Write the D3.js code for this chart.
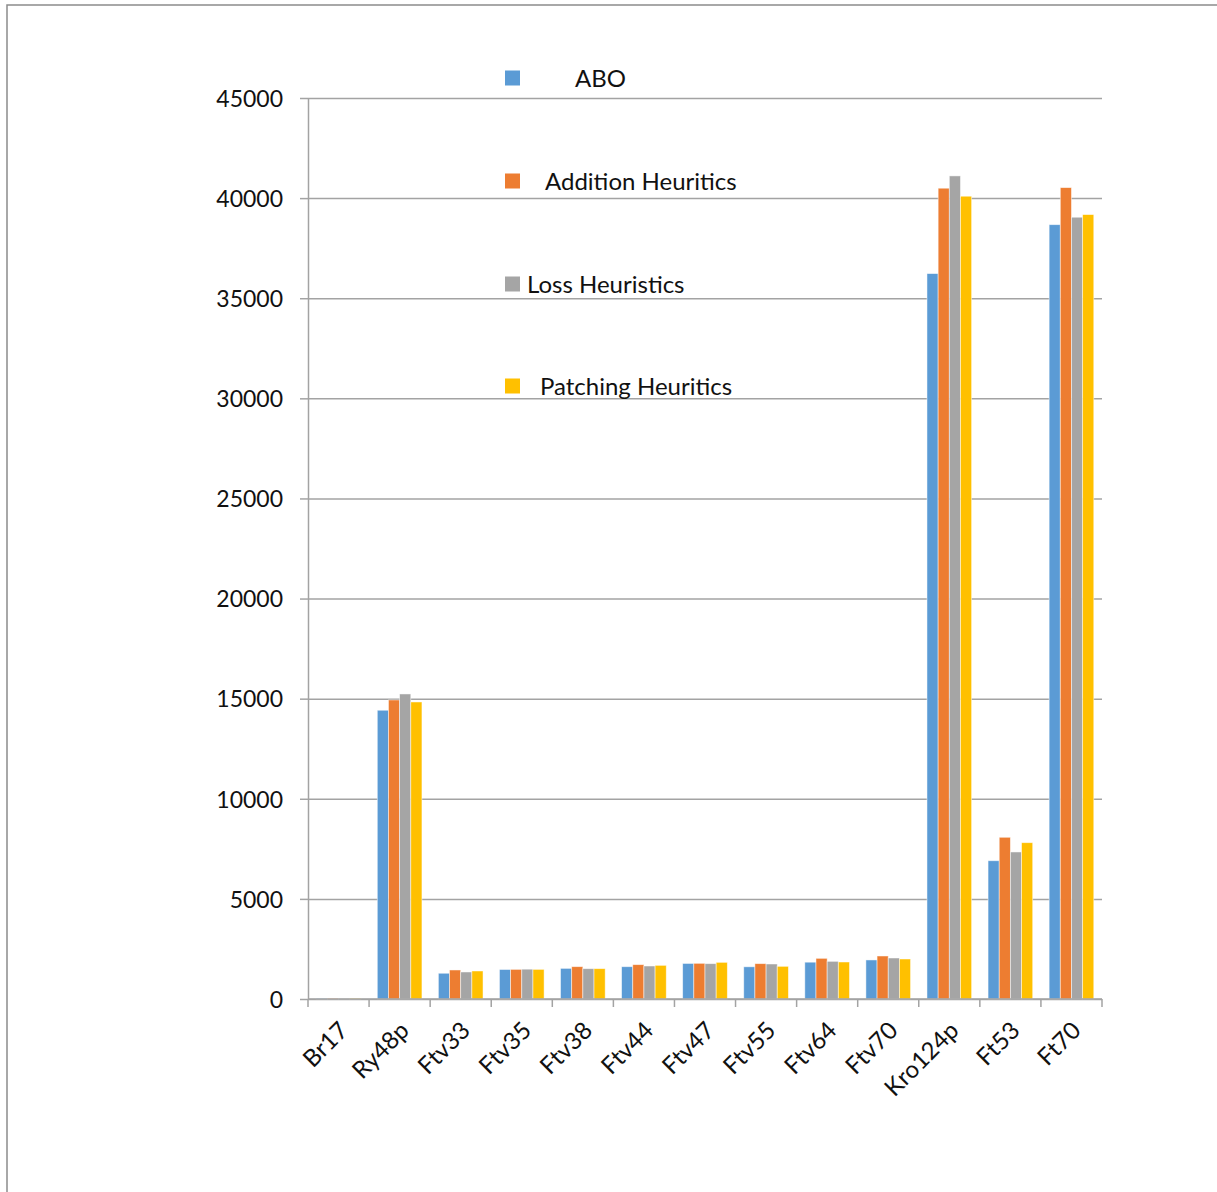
<!DOCTYPE html>
<html>
<head>
<meta charset="utf-8">
<script src="https://cdn.jsdelivr.net/npm/d3@7"></script>
<style>
  body { margin: 0; background: #fff; }
  svg text { font-family: Lato, "Open Sans", sans-serif; fill: #111; }
</style>
</head>
<body>
<svg id="chart" width="1217" height="1192"></svg>
<script>
// values
const categories = ['Br17', 'Ry48p', 'Ftv33', 'Ftv35', 'Ftv38', 'Ftv44', 'Ftv47', 'Ftv55', 'Ftv64', 'Ftv70', 'Kro124p', 'Ft53', 'Ft70'];
const seriesNames = ['ABO', 'Addition Heuritics', 'Loss Heuristics', 'Patching Heuritics'];
const abo       = [39, 14422, 1286, 1473, 1530, 1613, 1776, 1608, 1839, 1950, 36230, 6905, 38673];
const addition  = [39, 14935, 1449, 1480, 1615, 1715, 1782, 1765, 2031, 2148, 40495, 8077, 40524];
const loss      = [39, 15235, 1349, 1490, 1515, 1648, 1765, 1748, 1881, 2048, 41109, 7343, 39045];
const patching  = [39, 14835, 1399, 1480, 1515, 1681, 1831, 1632, 1848, 1998, 40095, 7807, 39177];
const yTicks = [0, 5000, 10000, 15000, 20000, 25000, 30000, 35000, 40000, 45000];

const colors = ['#5B9BD5', '#ED7D31', '#A5A5A5', '#FFC000'];
const seriesValues = [abo, addition, loss, patching];

const svg = d3.select('#chart');
const margin = { top: 98, right: 115, bottom: 193, left: 308 };
const width = 1217 - margin.left - margin.right;
const height = 1192 - margin.top - margin.bottom;

// outer frame (only top and left edges show)
svg.append('path')
  .attr('d', 'M7,1192V5H1217')
  .attr('fill', 'none')
  .attr('stroke', '#8c8c8c')
  .attr('stroke-width', 1.5);

const x = d3.scaleBand().domain(categories).range([0, width]);
const x1 = d3.scaleBand().domain(seriesNames).range([0, x.bandwidth()]).paddingOuter(0.735);
const y = d3.scaleLinear().domain([0, 45000]).range([height, 0]);

const g = svg.append('g')
  .attr('transform', 'translate(' + margin.left + ',' + margin.top + ')');

// gridlines
g.append('g')
  .call(d3.axisLeft(y).tickValues(yTicks).tickSize(-width).tickFormat(''))
  .call(s => s.select('.domain').remove())
  .selectAll('line')
  .attr('stroke', '#a3a3a3')
  .attr('stroke-width', 1.5);

// bars
const table = categories.map((c, i) => ({ label: c, values: seriesValues.map(v => v[i]) }));

const groups = g.selectAll('.grp')
  .data(table)
  .enter().append('g')
  .attr('class', 'grp')
  .attr('transform', d => 'translate(' + x(d.label) + ',0)');

groups.selectAll('rect')
  .data(d => d.values.map((v, k) => ({ name: seriesNames[k], value: v, k: k })))
  .enter().append('rect')
  .attr('x', d => x1(d.name))
  .attr('width', x1.bandwidth())
  .attr('y', d => y(d.value))
  .attr('height', d => height - y(d.value))
  .attr('fill', d => colors[d.k])
  .attr('stroke', '#fff')
  .attr('stroke-opacity', 0.6)
  .attr('stroke-width', 0.8);

// y axis
const yAxis = g.append('g')
  .call(d3.axisLeft(y).tickValues(yTicks).tickSize(8).tickSizeOuter(0).tickPadding(17).tickFormat(d3.format('d')));
yAxis.select('.domain').attr('stroke', '#a3a3a3').attr('stroke-width', 1.5);
yAxis.selectAll('line').attr('stroke', '#a3a3a3').attr('stroke-width', 1.5);
yAxis.selectAll('text').style('font-size', '23px').attr('dy', '0.36em');

// x axis: ticks between categories
const xAxis = g.append('g')
  .attr('transform', 'translate(0,' + height + ')');
xAxis.append('line')
  .attr('x1', 0).attr('x2', width)
  .attr('stroke', '#a3a3a3').attr('stroke-width', 1.5);
xAxis.selectAll('.tk')
  .data(categories.map(c => x(c)).concat([x.range()[1]]))
  .enter().append('line')
  .attr('class', 'tk')
  .attr('x1', d => d).attr('x2', d => d)
  .attr('y1', 0).attr('y2', 8)
  .attr('stroke', '#a3a3a3').attr('stroke-width', 1.5);
xAxis.selectAll('.lbl')
  .data(categories)
  .enter().append('text')
  .attr('class', 'lbl')
  .attr('text-anchor', 'end')
  .attr('transform', d => 'translate(' + (x(d) + x.bandwidth() / 2 + 11) + ',33) rotate(-45)')
  .style('font-size', '24px')
  .text(d => d);

// legend
const legendY = [78, 181, 284, 386];
const legendTextX = [575, 545, 527, 540];
const legend = svg.append('g');
seriesNames.forEach((n, i) => {
  legend.append('rect')
    .attr('x', 505).attr('y', legendY[i] - 7.5)
    .attr('width', 15).attr('height', 15)
    .attr('fill', colors[i]);
  legend.append('text')
    .attr('x', legendTextX[i]).attr('y', legendY[i])
    .attr('dy', '0.36em')
    .style('font-size', '24px')
    .text(n);
});
</script>
</body>
</html>
